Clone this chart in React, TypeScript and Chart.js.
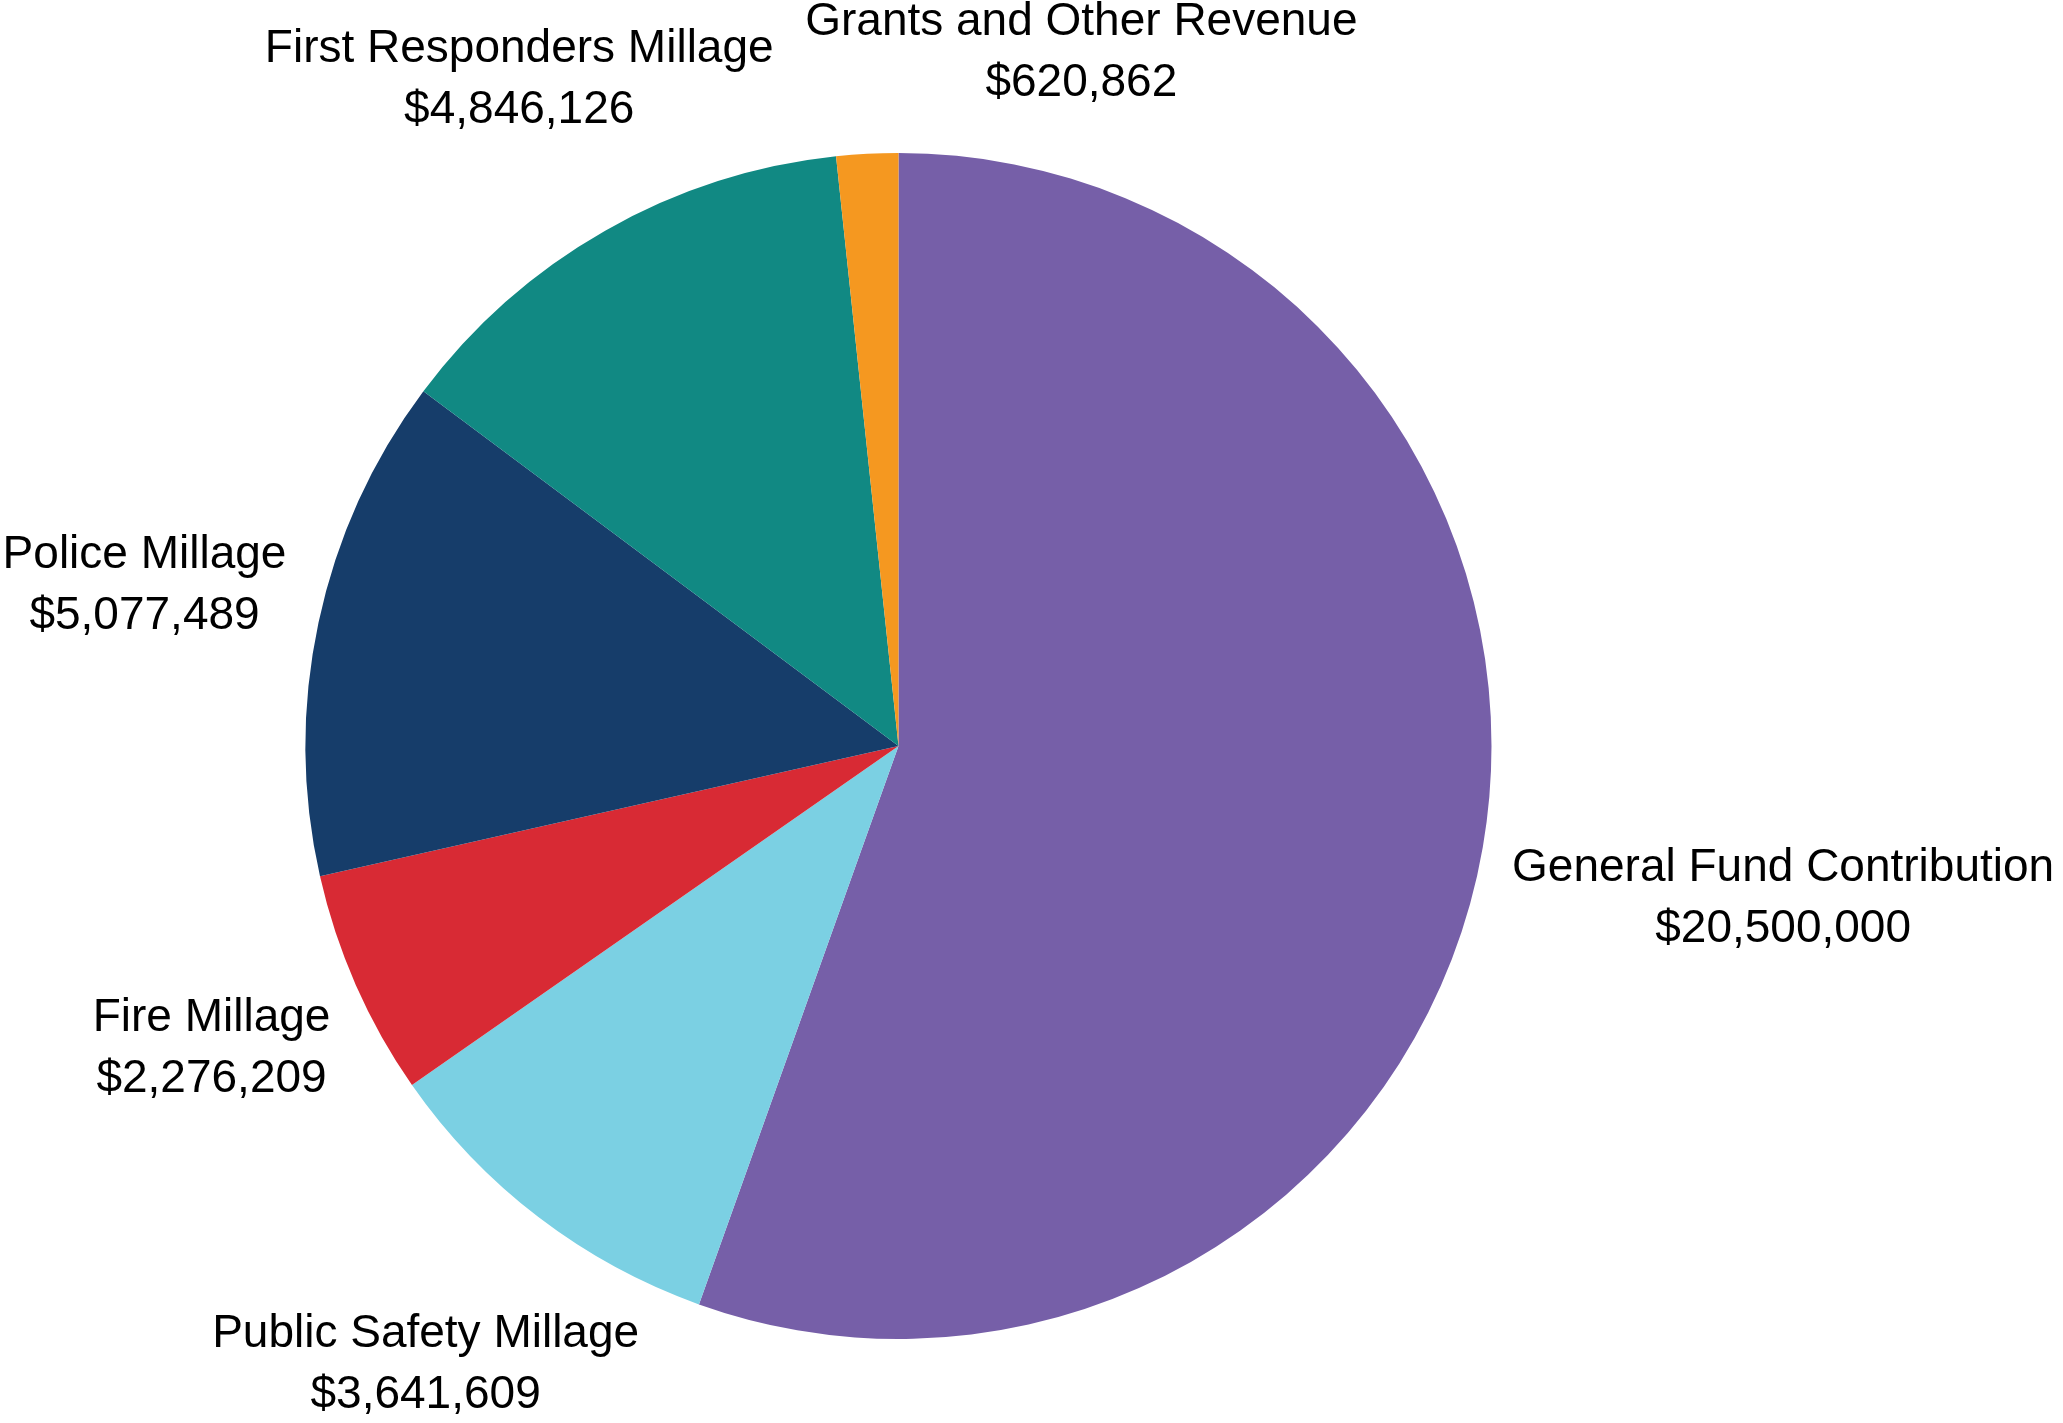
import React, { useEffect, useRef } from "react";
import { Chart, registerables } from "chart.js";

Chart.register(...registerables);

const categories: string[] = [
  "General Fund Contribution",
  "Public Safety Millage",
  "Fire Millage",
  "Police Millage",
  "First Responders Millage",
  "Grants and Other Revenue",
];
const amounts: number[] = [20500000, 3641609, 2276209, 5077489, 4846126, 620862];
const sliceColors: string[] = ["#765FA8", "#7BD0E3", "#D82A34", "#163D6A", "#118983", "#F59820"];
// label placement: radial distance factor and angular nudge (degrees)
const labelRadius: number[] = [1.514, 1.313, 1.266, 1.3, 1.293, 1.209];
const labelAngleShift: number[] = [0, 0, 0, 0, 0, 17.8];

const FONT = "46px 'Liberation Sans', Arimo, Arial, Helvetica, sans-serif";

const fmt = (v: number) => "$" + v.toLocaleString("en-US");

const labelPlugin = {
  id: "outerLabels",
  afterDatasetsDraw(chart: any) {
    const ctx = chart.ctx;
    const meta = chart.getDatasetMeta(0);
    ctx.save();
    ctx.fillStyle = "#000";
    ctx.font = FONT;
    ctx.textAlign = "center";
    ctx.textBaseline = "middle";
    meta.data.forEach((arc: any, i: number) => {
      const { x, y, startAngle, endAngle, outerRadius } = arc.getProps(
        ["x", "y", "startAngle", "endAngle", "outerRadius"],
        true
      );
      const mid = (startAngle + endAngle) / 2 + (labelAngleShift[i] * Math.PI) / 180;
      const r = outerRadius * labelRadius[i];
      const lx = x + Math.cos(mid) * r;
      const ly = y + Math.sin(mid) * r;
      ctx.fillText(categories[i], lx, ly - 30.5);
      ctx.fillText(fmt(amounts[i]), lx, ly + 30.5);
    });
    ctx.restore();
  },
};

export default function App() {
  const ref = useRef<HTMLCanvasElement | null>(null);
  useEffect(() => {
    document.body.style.margin = "0";
    document.body.style.overflow = "hidden";
    const canvas = ref.current!;
    const chart = new Chart(canvas, {
      type: "pie",
      data: {
        labels: categories,
        datasets: [
          {
            data: amounts,
            backgroundColor: sliceColors,
            borderWidth: 0,
          },
        ],
      },
      options: {
        responsive: false,
        animation: false,
        devicePixelRatio: 1,
        layout: { padding: { left: 305.5, right: 571.5, top: 153, bottom: 84 } },
        plugins: {
          legend: { display: false },
          tooltip: { enabled: false },
        },
      },
      plugins: [labelPlugin],
    });
    let alive = true;
    if ((document as any).fonts && (document as any).fonts.load) {
      (document as any).fonts
        .load(FONT, "General $0123456789")
        .then(() => {
          if (alive) chart.draw();
        })
        .catch(() => {});
    }
    return () => {
      alive = false;
      chart.destroy();
    };
  }, []);
  return (
    <div style={{ width: 2063, height: 1423, background: "#fff" }}>
      <span style={{ fontFamily: "'Liberation Sans'", position: "absolute", left: -9999, fontSize: 46 }}>
        General $0123456789
      </span>
      <canvas ref={ref} width={2063} height={1423} style={{ display: "block" }} />
    </div>
  );
}
